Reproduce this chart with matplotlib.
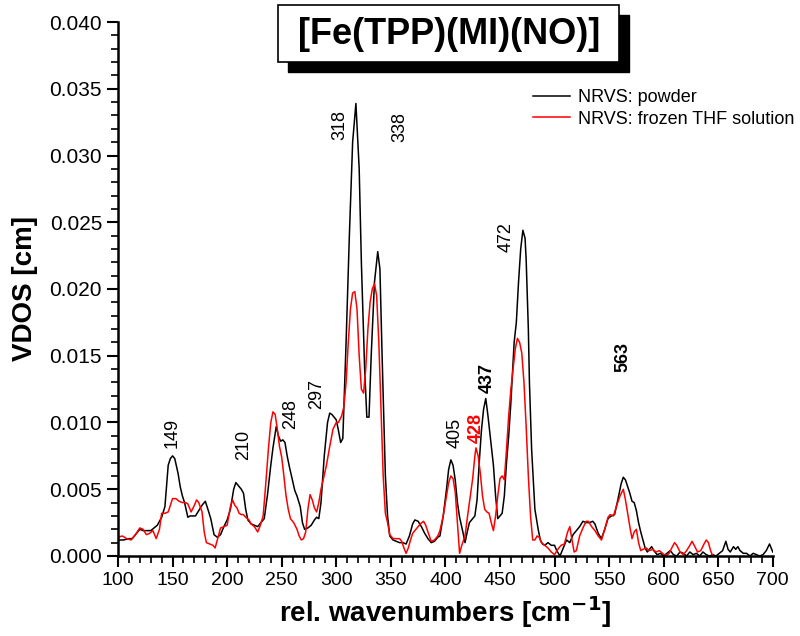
import numpy as np
import matplotlib
matplotlib.use('Agg')
import matplotlib.pyplot as plt
from matplotlib.patches import Rectangle
from matplotlib.ticker import MultipleLocator, FormatStrFormatter

plt.rcParams['font.family'] = ['Liberation Sans', 'DejaVu Sans']

# NRVS powder (black)
powder_wn = [100, 105, 110, 113, 117, 120, 123, 126, 130, 133, 136, 140, 143, 146, 148, 150, 152, 155,
             157, 159, 161, 164, 166, 168, 171, 174, 177, 180, 182, 185, 188, 191, 194, 197, 200, 203,
             206, 208, 210, 213, 215, 217, 219, 222, 225, 228, 231, 234, 237, 240, 242, 245, 247, 249,
             251, 253, 255, 257, 260, 262, 264, 267, 269, 271, 274, 277, 280, 282, 284, 286, 289, 292,
             294, 296, 298, 300, 302, 304, 306, 309, 312, 315, 318, 321, 323, 326, 328, 330, 332, 335,
             338, 340, 342, 345, 347, 349, 352, 355, 358, 361, 364, 367, 370, 372, 375, 378, 381, 384,
             387, 390, 393, 395, 398, 401, 403, 405, 407, 409, 411, 413, 416, 418, 420, 422, 425, 427,
             429, 431, 433, 435, 437, 439, 441, 444, 446, 448, 450, 452, 454, 456, 458, 460, 463, 465,
             467, 469, 471, 473, 474, 476, 477, 479, 482, 485, 487, 489, 491, 494, 497, 500, 502, 505,
             508, 511, 514, 517, 520, 523, 526, 529, 532, 535, 537, 540, 543, 546, 549, 552, 555, 558,
             561, 563, 565, 567, 569, 571, 573, 575, 577, 579, 581, 583, 585, 587, 589, 591, 594, 597,
             600, 603, 606, 609, 612, 615, 618, 621, 624, 627, 630, 633, 636, 639, 642, 645, 648, 651,
             654, 657, 659, 661, 664, 666, 668, 670, 673, 676, 679, 682, 685, 688, 691, 694, 697, 700]
powder_vdos = [0.0012, 0.0012, 0.0013, 0.0013, 0.0017, 0.0020, 0.0019, 0.0019, 0.0019, 0.0021, 0.0023,
               0.0029, 0.0037, 0.0068, 0.0073, 0.0075, 0.0073, 0.0062, 0.0052, 0.0045, 0.0040, 0.0029,
               0.0030, 0.0030, 0.0030, 0.0034, 0.0038, 0.0041, 0.0036, 0.0028, 0.0016, 0.0014, 0.0016,
               0.0022, 0.0027, 0.0035, 0.0050, 0.0055, 0.0053, 0.0050, 0.0047, 0.0035, 0.0027, 0.0024,
               0.0023, 0.0022, 0.0025, 0.0028, 0.0046, 0.0068, 0.0081, 0.0097, 0.0090, 0.0086, 0.0087,
               0.0085, 0.0075, 0.0067, 0.0056, 0.0049, 0.0045, 0.0037, 0.0025, 0.0020, 0.0021, 0.0023,
               0.0027, 0.0029, 0.0028, 0.0040, 0.0075, 0.0100, 0.0107, 0.0106, 0.0104, 0.0102, 0.0094,
               0.0085, 0.0088, 0.0160, 0.0240, 0.0310, 0.0339, 0.0290, 0.0220, 0.0140, 0.0104, 0.0104,
               0.0150, 0.0205, 0.0228, 0.0215, 0.0150, 0.0060, 0.0030, 0.0015, 0.0012, 0.0011, 0.0010,
               0.0010, 0.0009, 0.0015, 0.0024, 0.0027, 0.0026, 0.0022, 0.0017, 0.0013, 0.0010, 0.0011,
               0.0014, 0.0015, 0.0030, 0.0050, 0.0065, 0.0072, 0.0068, 0.0057, 0.0040, 0.0029, 0.0018,
               0.0010, 0.0018, 0.0025, 0.0028, 0.0030, 0.0042, 0.0070, 0.0094, 0.0110, 0.0118, 0.0105,
               0.0090, 0.0068, 0.0045, 0.0028, 0.0030, 0.0032, 0.0045, 0.0070, 0.0090, 0.0115, 0.0160,
               0.0175, 0.0205, 0.0230, 0.0244, 0.0238, 0.0222, 0.0170, 0.0130, 0.0080, 0.0035, 0.0020,
               0.0012, 0.0009, 0.0008, 0.0010, 0.0008, 0.0008, 0.0004, 0.0000, 0.0006, 0.0012, 0.0010,
               0.0016, 0.0019, 0.0022, 0.0026, 0.0025, 0.0025, 0.0026, 0.0024, 0.0017, 0.0013, 0.0020,
               0.0028, 0.0030, 0.0031, 0.0042, 0.0054, 0.0059, 0.0057, 0.0052, 0.0047, 0.0041, 0.0040,
               0.0034, 0.0025, 0.0018, 0.0012, 0.0006, 0.0003, 0.0005, 0.0007, 0.0004, 0.0001, 0.0002,
               0.0000, 0.0002, 0.0004, 0.0001, 0.0000, 0.0003, 0.0002, 0.0000, 0.0003, 0.0001, 0.0002,
               0.0000, 0.0003, 0.0001, 0.0000, 0.0001, 0.0000, 0.0002, 0.0004, 0.0011, 0.0005, 0.0003,
               0.0007, 0.0005, 0.0007, 0.0004, 0.0002, 0.0002, 0.0000, 0.0002, 0.0001, 0.0000, 0.0001,
               0.0004, 0.0009, 0.0003]

# NRVS frozen THF solution (red)
thf_wn = [100, 104, 108, 112, 116, 120, 123, 126, 129, 132, 135, 138, 140, 143, 146, 148, 150, 153, 156,
          159, 162, 164, 167, 170, 172, 174, 177, 179, 181, 184, 187, 189, 191, 194, 197, 200, 203, 205,
          207, 209, 211, 213, 215, 217, 220, 222, 225, 228, 230, 233, 235, 238, 240, 242, 244, 246, 248,
          250, 252, 254, 256, 258, 261, 264, 266, 268, 270, 272, 274, 276, 278, 280, 282, 284, 286, 288,
          291, 294, 297, 300, 302, 305, 307, 309, 311, 313, 315, 317, 319, 321, 323, 325, 327, 329, 331,
          333, 335, 337, 339, 341, 343, 345, 347, 349, 352, 355, 358, 360, 362, 364, 366, 368, 370, 372,
          374, 377, 380, 382, 384, 387, 390, 393, 395, 398, 401, 403, 405, 407, 409, 411, 413, 415, 418,
          420, 422, 425, 427, 428, 430, 432, 434, 436, 438, 440, 442, 444, 446, 448, 450, 452, 454, 456,
          458, 460, 462, 464, 466, 468, 470, 472, 474, 476, 478, 480, 482, 484, 486, 488, 491, 494, 497,
          500, 503, 506, 509, 512, 514, 516, 518, 520, 523, 526, 529, 531, 534, 537, 540, 543, 546, 549,
          551, 554, 557, 560, 563, 565, 567, 569, 571, 573, 575, 577, 579, 581, 584, 587, 590, 593, 596,
          599, 602, 605, 608, 610, 612, 615, 618, 621, 624, 626, 628, 631, 634, 637, 639, 641, 643, 645]
thf_vdos = [0.0014, 0.0015, 0.0013, 0.0012, 0.0016, 0.0021, 0.0020, 0.0016, 0.0017, 0.0019, 0.0013,
            0.0020, 0.0032, 0.0032, 0.0033, 0.0038, 0.0043, 0.0043, 0.0041, 0.0040, 0.0040, 0.0039,
            0.0033, 0.0038, 0.0042, 0.0040, 0.0033, 0.0018, 0.0010, 0.0009, 0.0008, 0.0006, 0.0012,
            0.0021, 0.0022, 0.0023, 0.0037, 0.0042, 0.0038, 0.0036, 0.0032, 0.0031, 0.0031, 0.0029,
            0.0027, 0.0024, 0.0022, 0.0018, 0.0022, 0.0030, 0.0050, 0.0082, 0.0100, 0.0108, 0.0106,
            0.0095, 0.0082, 0.0074, 0.0060, 0.0045, 0.0035, 0.0028, 0.0025, 0.0020, 0.0015, 0.0012,
            0.0013, 0.0018, 0.0035, 0.0046, 0.0042, 0.0036, 0.0033, 0.0040, 0.0050, 0.0057, 0.0068,
            0.0082, 0.0095, 0.0100, 0.0100, 0.0105, 0.0112, 0.0130, 0.0160, 0.0185, 0.0197, 0.0198,
            0.0185, 0.0150, 0.0125, 0.0122, 0.0140, 0.0170, 0.0190, 0.0200, 0.0204, 0.0195, 0.0160,
            0.0110, 0.0060, 0.0032, 0.0025, 0.0016, 0.0013, 0.0013, 0.0013, 0.0011, 0.0006, 0.0002,
            0.0006, 0.0012, 0.0017, 0.0019, 0.0021, 0.0024, 0.0026, 0.0023, 0.0018, 0.0011, 0.0012,
            0.0015, 0.0019, 0.0030, 0.0045, 0.0055, 0.0060, 0.0058, 0.0048, 0.0025, 0.0002, 0.0008,
            0.0015, 0.0028, 0.0040, 0.0058, 0.0075, 0.0081, 0.0075, 0.0062, 0.0045, 0.0035, 0.0033,
            0.0032, 0.0025, 0.0019, 0.0030, 0.0045, 0.0058, 0.0060, 0.0057, 0.0080, 0.0105, 0.0125,
            0.0140, 0.0155, 0.0163, 0.0160, 0.0152, 0.0130, 0.0097, 0.0060, 0.0030, 0.0012, 0.0012,
            0.0015, 0.0014, 0.0010, 0.0008, 0.0006, 0.0003, 0.0001, 0.0005, 0.0008, 0.0009, 0.0018,
            0.0022, 0.0012, 0.0003, 0.0004, 0.0015, 0.0021, 0.0026, 0.0026, 0.0022, 0.0019, 0.0015,
            0.0012, 0.0020, 0.0029, 0.0031, 0.0030, 0.0038, 0.0045, 0.0050, 0.0042, 0.0032, 0.0022,
            0.0013, 0.0018, 0.0020, 0.0010, 0.0004, 0.0005, 0.0006, 0.0004, 0.0005, 0.0003, 0.0004,
            0.0002, 0.0000, 0.0002, 0.0007, 0.0010, 0.0008, 0.0003, 0.0001, 0.0004, 0.0008, 0.0011,
            0.0008, 0.0003, 0.0004, 0.0009, 0.0012, 0.0010, 0.0004, 0.0000]

# peak labels: text, x, y, colour, bold
peak_text = ['149', '210', '248', '297', '318', '338', '405', '428', '437', '472', '563']
peak_x = [150, 215, 258, 282, 303, 358, 409, 428, 438, 456, 563]
peak_y = [0.0092, 0.0083, 0.0106, 0.0121, 0.0323, 0.0321, 0.0092, 0.0096, 0.0133, 0.0239, 0.0149]
peak_color = ['k', 'k', 'k', 'k', 'k', 'k', 'k', 'red', 'k', 'k', 'k']
peak_bold = [False, False, False, False, False, False, False, True, True, False, True]

fig = plt.figure(figsize=(8, 6.36), dpi=100)
ax = fig.add_axes([0.1475, 0.1258, 0.8185, 0.8396])

ax.plot(powder_wn, powder_vdos, color='k', lw=1.1, label='NRVS: powder')
ax.plot(thf_wn, thf_vdos, color='red', lw=1.1, label='NRVS: frozen THF solution')

for t, x, y, c, b in zip(peak_text, peak_x, peak_y, peak_color, peak_bold):
    ax.text(x, y, t, rotation=90, ha='center', va='center', fontsize=13, color=c,
            fontweight='bold' if b else 'normal')

ax.set_xlim(100, 700)
ax.set_ylim(0, 0.040)
ax.xaxis.set_major_locator(MultipleLocator(50))
ax.xaxis.set_minor_locator(MultipleLocator(10))
ax.yaxis.set_major_locator(MultipleLocator(0.005))
ax.yaxis.set_minor_locator(MultipleLocator(0.001))
ax.yaxis.set_major_formatter(FormatStrFormatter('%.3f'))

for s in ['top', 'right']:
    ax.spines[s].set_visible(False)
for s in ['left', 'bottom']:
    ax.spines[s].set_linewidth(1.8)
ax.tick_params(which='major', direction='out', length=8, width=1.5, labelsize=14)
ax.tick_params(axis='y', which='major', labelsize=15)
ax.tick_params(which='minor', direction='out', length=5, width=1.2)

ax.set_xlabel('rel. wavenumbers [cm$^{\\mathbf{-1}}$]', fontsize=20, fontweight='bold', labelpad=4)
ax.set_ylabel('VDOS [cm]', fontsize=20, fontweight='bold', labelpad=8)

ax.legend(loc='upper left', bbox_to_anchor=(524 / 800, 1 - 80 / 636), bbox_transform=fig.transFigure,
          frameon=False, fontsize=13, handlelength=2.05, handletextpad=0.45, labelspacing=0.25,
          borderpad=0)

# title box with drop shadow
fig.patches.append(Rectangle((288 / 800, 1 - 72 / 636), 341 / 800, 57 / 636,
                             transform=fig.transFigure, facecolor='k', edgecolor='k'))
fig.patches.append(Rectangle((278 / 800, 1 - 62 / 636), 341 / 800, 57 / 636,
                             transform=fig.transFigure, facecolor='white', edgecolor='k', lw=1.2))
fig.text(449 / 800, 1 - 35 / 636, '[Fe(TPP)(MI)(NO)]', ha='center', va='center',
         fontsize=26, fontweight='bold')

fig.savefig('out.png', dpi=100)
